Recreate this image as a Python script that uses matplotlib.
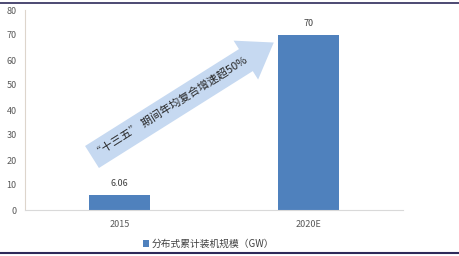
import matplotlib
matplotlib.use("Agg")
import matplotlib.pyplot as plt
from matplotlib.patches import FancyArrow
from matplotlib.lines import Line2D

plt.rcParams['font.family'] = ['Noto Sans CJK SC', 'DejaVu Sans']

categories = ["2015", "2020E"]
values = [6.06, 70]
value_labels = ["6.06", "70"]
series_name = "分布式累计装机规模（GW）"
yticks = [0, 10, 20, 30, 40, 50, 60, 70, 80]
note = "“十三五” 期间年均复合增速超50%"

W, H = 460, 256
fig = plt.figure(figsize=(W / 100, H / 100), dpi=100)
ax = fig.add_axes([25 / W, 1 - 210 / H, 378 / W, 200 / H])

bar_color = "#4F81BD"
x = list(range(len(categories)))
bars = ax.bar(x, values, width=0.32, color=bar_color, label=series_name, zorder=2)
ax.set_xlim(-0.5, len(categories) - 0.5)
ax.set_ylim(0, 80)
ax.set_yticks(yticks)
ax.set_yticklabels([str(t) for t in yticks])
ax.set_xticks(x)
ax.set_xticklabels(categories)
ax.tick_params(axis='both', length=0, labelsize=6.5, colors="#595959")
ax.tick_params(axis='y', pad=6)
ax.tick_params(axis='x', pad=7)
for s in ["top", "right"]:
    ax.spines[s].set_visible(False)
ax.spines["left"].set_color("#DDD5CC")
ax.spines["bottom"].set_color("#D9D9D9")
ax.spines["left"].set_linewidth(0.8)
ax.spines["bottom"].set_linewidth(0.8)

for xi, v, lab in zip(x, values, value_labels):
    ax.annotate(lab, (xi, v), xytext=(0, 5), textcoords="offset points",
                ha="center", va="bottom", fontsize=6.5, color="#404040")

# overlay for arrow annotation and border lines (pixel coordinates)
ov = fig.add_axes([0, 0, 1, 1], facecolor="none")
ov.set_xlim(0, W)
ov.set_ylim(H, 0)
ov.axis("off")

arr = FancyArrow(92, 157, 181 * 0.85, -114 * 0.85, width=26, head_width=46,
                 head_length=33, length_includes_head=False,
                 color="#C6D9F1", lw=0, zorder=1)
ov.add_patch(arr)
ov.text(170, 107, note, rotation=32.2, rotation_mode="anchor",
        ha="center", va="center", fontsize=8, color="#262626")

ov.add_line(Line2D([0, W], [3, 3], color="#2E2A5A", lw=1.2))
ov.add_line(Line2D([0, W], [252.5, 252.5], color="#2E2A5A", lw=1.5))

fig.legend(handles=[bars], labels=[series_name], loc="center",
           bbox_to_anchor=(209 / W, 1 - 244 / H), frameon=False,
           fontsize=7, handlelength=0.6, handleheight=0.6,
           handletextpad=0.3, labelcolor="#404040")

fig.savefig("out.png", dpi=100)
